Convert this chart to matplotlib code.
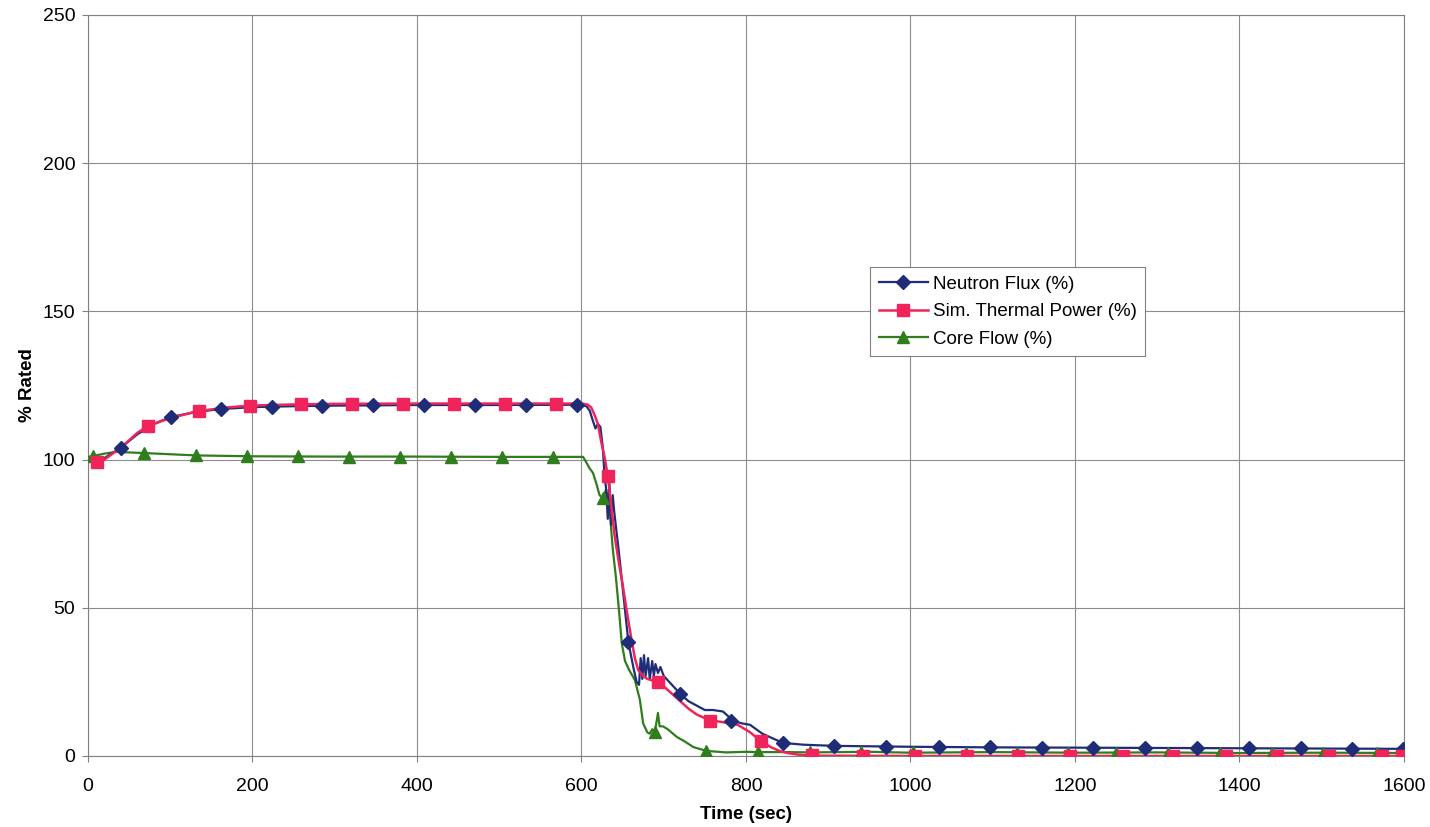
import matplotlib.pyplot as plt
from matplotlib.lines import Line2D

plt.rcParams['font.family'] = ['Liberation Sans', 'DejaVu Sans']

# Neutron flux (%) - line trace
flux_t = [0, 10, 20, 40, 60, 80, 100, 130, 160, 200, 250, 300, 400, 500, 600, 606, 610, 614, 617,
          620, 623, 626, 628, 630, 632, 634, 636, 638, 640, 645, 650, 657, 663, 667, 670, 672, 674,
          676, 678, 681, 683, 686, 688, 690, 693, 696, 700, 710, 720, 730, 740, 750, 760, 772, 778,
          783, 795, 805, 820, 832, 845, 870, 907, 1000, 1100, 1200, 1300, 1400, 1500, 1600]
flux_v = [100, 99.3, 100.5, 104, 108.5, 112, 114.3, 116, 117, 117.7, 118, 118.2, 118.4, 118.4, 118.5,
          118, 116.5, 113, 110.5, 112, 111, 104, 95, 90, 80, 92, 78, 88, 82, 70, 57, 38.5, 30, 25,
          24, 33, 26, 34, 27, 33, 26, 32, 27, 31, 28, 30, 27, 24, 21, 18.5, 17, 15.5, 15.5, 15,
          13.5, 11.9, 11, 10.5, 7.5, 6, 4.4, 3.8, 3.4, 3.1, 2.9, 2.8, 2.7, 2.6, 2.5, 2.4]
# Neutron flux markers
flux_mt = [40, 101, 162, 224, 284, 346, 408, 470, 533, 594, 656, 720, 782, 845, 907, 970, 1035,
           1097, 1160, 1222, 1285, 1348, 1411, 1475, 1537, 1599]
flux_mv = [104, 114.4, 117, 117.8, 118.2, 118.3, 118.4, 118.4, 118.4, 118.5, 38.5, 21, 11.9, 4.4,
           3.4, 3.1, 3.0, 2.9, 2.8, 2.8, 2.7, 2.7, 2.6, 2.6, 2.5, 2.5]

# Simulated thermal power (%)
power_t = [0, 5, 11, 20, 40, 60, 73, 100, 135, 170, 197, 250, 300, 400, 500, 600, 608, 612, 616,
           620, 624, 628, 632, 636, 640, 645, 650, 655, 661, 665, 669, 675, 680, 686, 693, 700, 710,
           720, 730, 740, 756, 770, 790, 805, 818, 830, 840, 850, 865, 880, 1000, 1600]
power_v = [100, 99.5, 99.2, 100, 104, 109, 111.3, 114, 116.4, 117.6, 118.2, 118.6, 118.8, 118.9,
           118.9, 118.9, 118.5, 117.5, 115, 112, 106, 101, 94.5, 85, 75, 66, 58, 49, 39, 33, 29,
           27, 26, 25.5, 25, 23.5, 21, 18.5, 16, 14, 12, 11.5, 10.5, 8, 5, 3, 1.8, 1, 0.4, 0.1, 0, 0]
power_mt = [11, 73, 135, 197, 259, 321, 383, 445, 507, 569, 632, 693, 756, 818, 880, 942, 1005,
            1069, 1131, 1194, 1258, 1319, 1384, 1446, 1509, 1573, 1598]
power_mv = [99.2, 111.3, 116.4, 118.2, 118.6, 118.8, 118.9, 118.9, 118.9, 118.9, 94.5, 25, 11.8,
            5, 0.2, 0, 0, 0, 0, 0, 0, 0, 0, 0, 0, 0, 0]

# Core flow (%)
flow_t = [0, 6, 20, 35, 50, 68, 100, 131, 200, 300, 400, 500, 602, 606, 610, 614, 618, 622, 626,
          630, 634, 638, 642, 646, 649, 653, 658, 665, 671, 675, 680, 683, 686, 689, 691, 693, 695,
          699, 705, 716, 725, 736, 752, 776, 800, 815, 850, 878, 950, 1000, 1100, 1200, 1300,
          1400, 1500, 1600]
flow_v = [100.9, 101.2, 102, 102.6, 102.4, 102.2, 101.8, 101.4, 101.1, 101, 101, 100.9, 100.9, 99,
          97, 95.5, 92, 88, 87, 90, 84, 70, 60, 48, 38, 32, 29, 25.6, 19, 11, 8, 7.5, 9, 8, 11,
          14.5, 10, 10, 9, 6.4, 5, 3, 1.7, 1.2, 1.4, 1.3, 1.3, 1.2, 1.4, 1.1, 1.3, 1.1, 1.2, 1.0,
          1.1, 1.0]
flow_mt = [6, 68, 131, 193, 255, 317, 379, 441, 503, 565, 626, 689, 752, 815, 878, 940, 1003, 1067,
           1130, 1191, 1250, 1313, 1376, 1439, 1502, 1567, 1598]
flow_mv = [101.2, 102.2, 101.4, 101.2, 101.1, 101.0, 101.0, 101.0, 100.9, 100.9, 87, 8, 1.7, 1.3,
           1.2, 1.2, 1.2, 1.1, 1.1, 1.1, 1.1, 1.1, 1.0, 1.0, 1.0, 1.0, 1.0]

blue = '#1f2d78'
red = '#f0245a'
green = '#2f7d1c'

fig = plt.figure(figsize=(14.3, 8.27), dpi=100)
ax = fig.add_axes([0.0615, 0.0859, 0.9203, 0.896])

ax.plot(flow_t, flow_v, color=green, lw=1.6, zorder=3)
ax.plot(flux_t, flux_v, color=blue, lw=1.6, zorder=4)
ax.plot(power_t, power_v, color=red, lw=1.8, zorder=5)
ax.plot(flow_mt, flow_mv, '^', color=green, ms=8, zorder=6)
ax.plot(flux_mt, flux_mv, 'D', color=blue, ms=7, zorder=7)
ax.plot(power_mt, power_mv, 's', color=red, ms=8, zorder=8)

ax.set_xlim(0, 1600)
ax.set_ylim(0, 250)
ax.set_xticks(range(0, 1601, 200))
ax.set_yticks(range(0, 251, 50))
ax.grid(True, color='#8c8c8c', lw=0.8)
ax.set_axisbelow(True)
for s in ax.spines.values():
    s.set_color('#808080')
ax.tick_params(labelsize=14, length=4, color='#808080')
ax.tick_params(axis='x', pad=12)
ax.tick_params(axis='y', pad=5)

ax.set_xlabel('Time (sec)', fontsize=13.5, fontweight='bold', labelpad=8)
ax.set_ylabel('% Rated', fontsize=13.5, fontweight='bold', labelpad=5)

handles = [
    Line2D([], [], color=blue, lw=1.6, marker='D', ms=7),
    Line2D([], [], color=red, lw=1.8, marker='s', ms=8),
    Line2D([], [], color=green, lw=1.6, marker='^', ms=8),
]
labels = ['Neutron Flux (%)', 'Sim. Thermal Power (%)', 'Core Flow (%)']
leg = ax.legend(handles, labels, loc='upper left', bbox_to_anchor=(0.5945, 0.6595), fontsize=13.5,
                frameon=True, fancybox=False, edgecolor='#808080', framealpha=1,
                handlelength=2.6, borderpad=0.45, labelspacing=0.55, handletextpad=0.3,
                borderaxespad=0)
leg.get_frame().set_linewidth(0.8)

fig.savefig('out.png', dpi=100)
